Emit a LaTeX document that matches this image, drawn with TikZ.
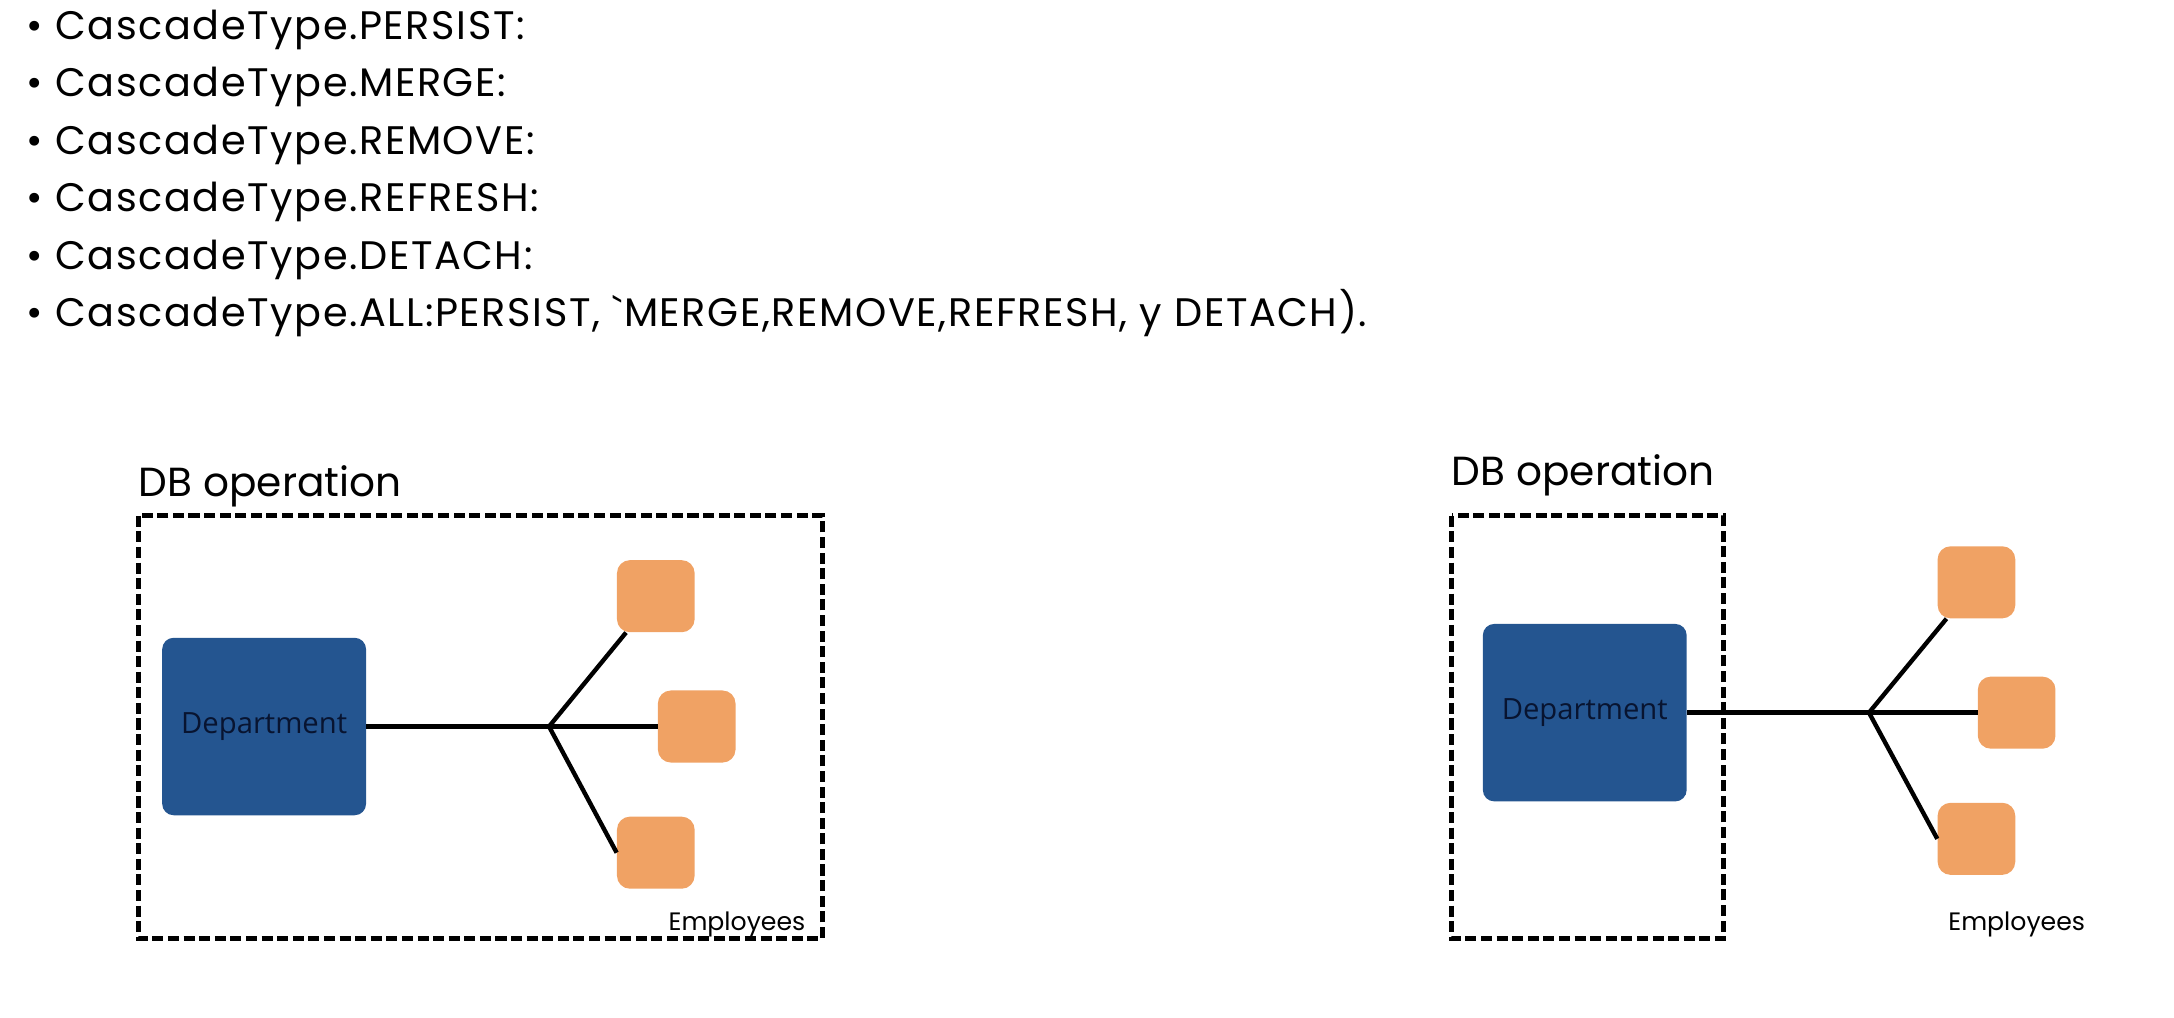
\documentclass[tikz,border=0pt]{standalone}
\usepackage{fontspec}
\newfontfamily\popfont{Poppins}
\newfontfamily\itemfont[LetterSpace=4]{Poppins}
\newfontfamily\deptfont{Open Sans}
\usetikzlibrary{positioning}
\definecolor{deptblue}{RGB}{36,85,144}
\definecolor{emporange}{RGB}{240,162,100}
\definecolor{deptink}{RGB}{8,20,48}
\begin{document}
\begin{tikzpicture}[x=0.03cm, y=-0.03cm,
    itemtext/.style={anchor=base west, inner sep=0pt, font=\itemfont\fontsize{24.5}{29}\selectfont},
    optitle/.style={anchor=base west, inner sep=0pt, font=\popfont\fontsize{25}{30}\selectfont},
    emplabel/.style={anchor=base west, inner sep=0pt, font=\popfont\fontsize{15.5}{18}\selectfont},
    frame/.style={draw, line width=2.9pt, dash pattern=on 6.8pt off 2.8pt},
    dept/.style={fill=deptblue, rounded corners=7pt, minimum width=44.1mm, minimum height=38.4mm,
                 inner sep=0pt, text=deptink, font=\deptfont\fontsize{18}{22}\selectfont},
    emp/.style={fill=emporange, rounded corners=8pt, minimum width=16.8mm, minimum height=15.6mm, inner sep=0pt},
    link/.style={draw, line width=2.7pt}]
  \useasboundingbox (0,0) rectangle (1568,734);

  % Cascade types
  \node (l1) [itemtext] at (19,28.5)  {\textbullet\ CascadeType.PERSIST:};
  \node (l2) [itemtext] at (19,69.9)  {\textbullet\ CascadeType.MERGE:};
  \node (l3) [itemtext] at (19,111.3) {\textbullet\ CascadeType.REMOVE:};
  \node (l4) [itemtext] at (19,152.7) {\textbullet\ CascadeType.REFRESH:};
  \node (l5) [itemtext] at (19,194.1) {\textbullet\ CascadeType.DETACH:};
  \node (l6) [itemtext] at (19,235.5) {\textbullet\ CascadeType.ALL:PERSIST, `MERGE,REMOVE,REFRESH, y DETACH).};

  % Left diagram: employees inside the operation
  \node (dbL) [optitle] at (100,358) {DB operation};
  \draw[frame] (100,372) rectangle (593,677);
  \node (deptL) [dept] at (190.5,524) {Department};
  \coordinate (jL) at (396,524);
  \node (eL1) [emp] at (473,430) {};
  \node (eL2) [emp] at (502.5,524) {};
  \node (eL3) [emp] at (473,615) {};
  \draw[link] (deptL) -- (jL);
  \draw[link] (jL) -- (eL1);
  \draw[link] (jL) -- (eL2);
  \draw[link] (jL) -- (eL3.west);
  \node (empL) [emplabel] at (482,671) {Employees};

  % Right diagram: employees outside the operation
  \node (dbR) [optitle] at (1047,350) {DB operation};
  \draw[frame] (1047,372) rectangle (1243,677);
  \node (deptR) [dept] at (1143,514) {Department};
  \coordinate (jR) at (1348,514);
  \node (eR1) [emp] at (1425.5,420) {};
  \node (eR2) [emp] at (1454.5,514) {};
  \node (eR3) [emp] at (1425.5,605) {};
  \draw[link] (deptR) -- (jR);
  \draw[link] (jR) -- (eR1);
  \draw[link] (jR) -- (eR2);
  \draw[link] (jR) -- (eR3.west);
  \node (empR) [emplabel] at (1405,671) {Employees};
\end{tikzpicture}
\end{document}
